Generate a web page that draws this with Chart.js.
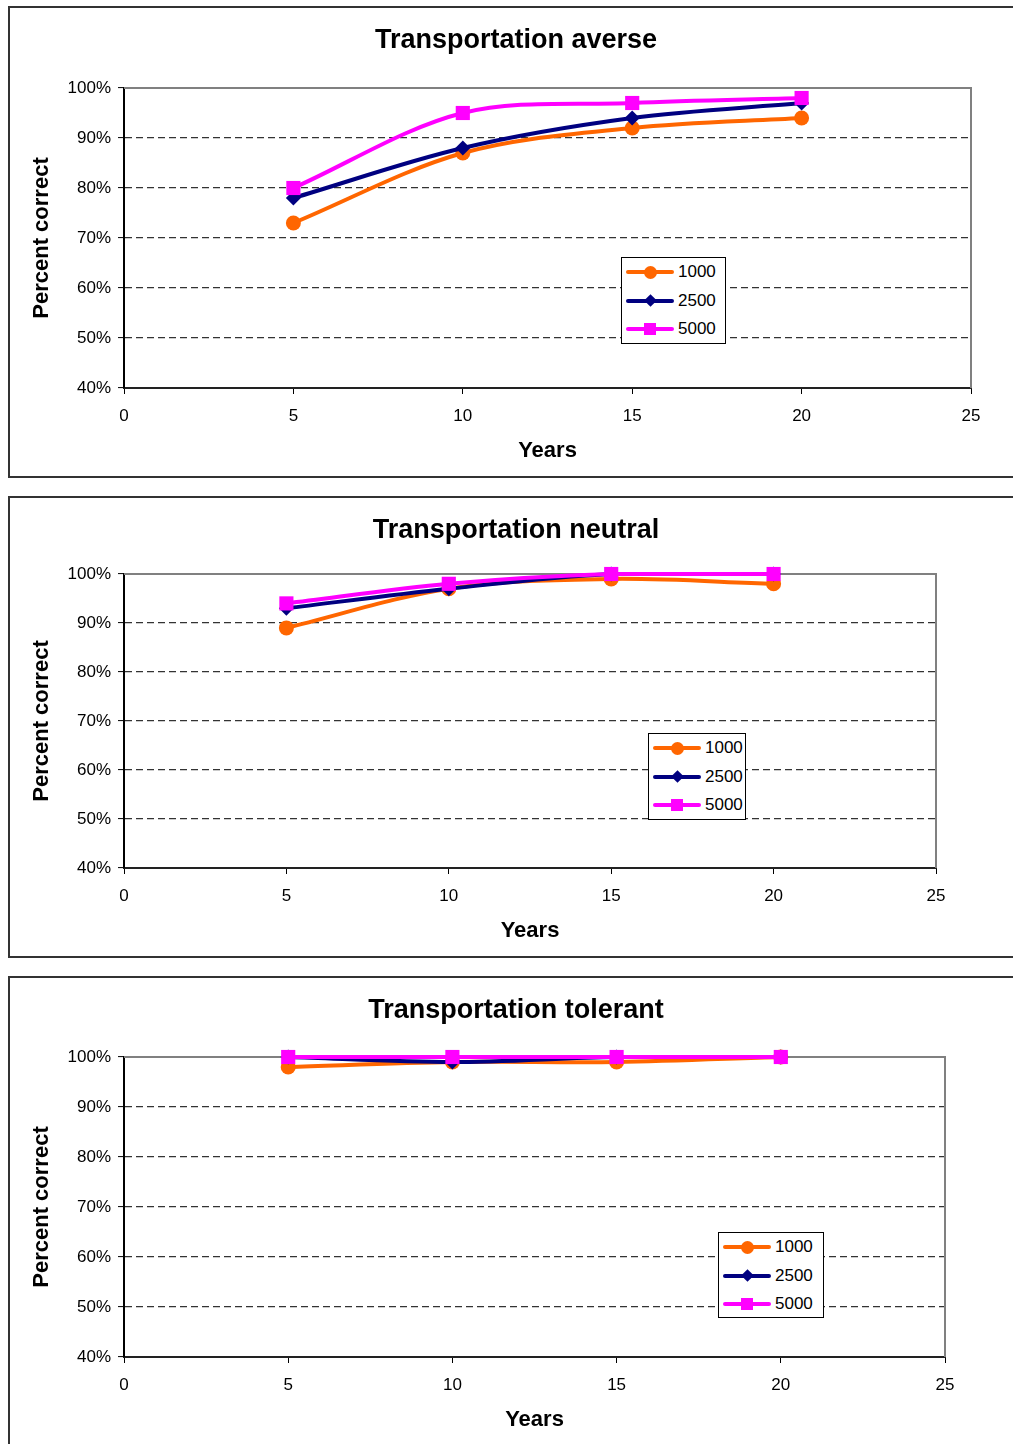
<!DOCTYPE html>
<html>
<head>
<meta charset="utf-8">
<script src="https://cdn.jsdelivr.net/npm/chart.js@4.4.1/dist/chart.umd.min.js"></script>
<style>
  body { margin: 0; width: 1013px; height: 1444px; overflow: hidden; background: #fff; position: relative;
         font-family: Arial, "Liberation Sans", sans-serif; }
  .box { position: absolute; left: 8px; width: 1016px; border: 2px solid #333; box-sizing: border-box; background: #fff; }
  .box canvas { position: absolute; left: 0; top: 0; }
  .legend { position: absolute; border: 1px solid #000; background: #fff; box-sizing: border-box; padding: 0 0 0 4px; }
  .row { height: 28.5px; display: flex; align-items: center; font-size: 17px; color: #000; }
  .key { position: relative; width: 48px; height: 14px; margin-right: 4px; }
  .key .ln { position: absolute; left: 0; right: 0; top: 5px; height: 4px; border-radius: 2px; }
  .key .mk { position: absolute; }
</style>
</head>
<body>
<script>
// data
const years = [5, 10, 15, 20];
const sampleSizes = ['1000', '2500', '5000'];
const seriesColors = ['#FF6600', '#000080', '#FF00FF'];
const pointStyles = ['circle', 'rectRot', 'rect'];
const pointSizes = [7.5, 7.5, 10];

const averse1000 = [73, 87, 92, 94];
const averse2500 = [78, 88, 94, 97];
const averse5000 = [80, 95, 97, 98];

const neutral1000 = [89, 97, 99, 98];
const neutral2500 = [93, 97, 100, 100];
const neutral5000 = [94, 98, 100, 100];

const tolerant1000 = [98, 99, 99, 100];
const tolerant2500 = [100, 99, 100, 100];
const tolerant5000 = [100, 100, 100, 100];

const chartTitles = ['Transportation averse', 'Transportation neutral', 'Transportation tolerant'];
const chartSeries = [
  [averse1000, averse2500, averse5000],
  [neutral1000, neutral2500, neutral5000],
  [tolerant1000, tolerant2500, tolerant5000]
];
const xMin = 0, xMax = 25, xStep = 5;
const yMin = 40, yMax = 100, yStep = 10;

// page layout of each panel (box, plot area, legend)
const panels = [
  { boxTop: 6,   boxHeight: 472, titleY: 41,   plot: { left: 124, top: 88,   right: 971, bottom: 388 },  legend: { left: 621, top: 257,  width: 105, height: 87 } },
  { boxTop: 496, boxHeight: 462, titleY: 531,  plot: { left: 124, top: 574,  right: 936, bottom: 868 },  legend: { left: 648, top: 733,  width: 98,  height: 87 } },
  { boxTop: 976, boxHeight: 476, titleY: 1011, plot: { left: 124, top: 1057, right: 945, bottom: 1357 }, legend: { left: 718, top: 1232, width: 106, height: 86 } }
];

// gray frame on top and right of plot area
const plotFrame = {
  id: 'plotFrame',
  beforeDatasetsDraw(chart) {
    const { ctx, chartArea: a } = chart;
    ctx.save();
    ctx.strokeStyle = '#808080';
    ctx.lineWidth = 2;
    ctx.beginPath();
    ctx.moveTo(a.left, a.top);
    ctx.lineTo(a.right, a.top);
    ctx.lineTo(a.right, a.bottom);
    ctx.stroke();
    ctx.restore();
  }
};

function buildLegend(p) {
  const lg = document.createElement('div');
  lg.className = 'legend';
  lg.style.left = p.legend.left + 'px';
  lg.style.top = p.legend.top + 'px';
  lg.style.width = p.legend.width + 'px';
  lg.style.height = p.legend.height + 'px';
  sampleSizes.forEach((name, i) => {
    const row = document.createElement('div');
    row.className = 'row';
    const key = document.createElement('div');
    key.className = 'key';
    const ln = document.createElement('div');
    ln.className = 'ln';
    ln.style.background = seriesColors[i];
    const mk = document.createElement('div');
    mk.className = 'mk';
    mk.style.background = seriesColors[i];
    if (pointStyles[i] === 'circle') {
      Object.assign(mk.style, { width: '13px', height: '13px', left: '18px', top: '0.5px', borderRadius: '50%' });
    } else if (pointStyles[i] === 'rectRot') {
      Object.assign(mk.style, { width: '9px', height: '9px', left: '19.5px', top: '2.5px', transform: 'rotate(45deg)' });
    } else {
      Object.assign(mk.style, { width: '12px', height: '12px', left: '18px', top: '1px' });
    }
    key.appendChild(ln);
    key.appendChild(mk);
    row.appendChild(key);
    row.appendChild(document.createTextNode(name));
    lg.appendChild(row);
  });
  document.body.appendChild(lg);
}

function makeChart(idx) {
  const p = panels[idx];
  const box = document.createElement('div');
  box.className = 'box';
  box.style.top = p.boxTop + 'px';
  box.style.height = p.boxHeight + 'px';
  const canvas = document.createElement('canvas');
  const cw = 1012, ch = p.boxHeight - 4;
  canvas.width = cw;
  canvas.height = ch;
  canvas.style.width = cw + 'px';
  canvas.style.height = ch + 'px';
  box.appendChild(canvas);
  document.body.appendChild(box);

  const originX = 10, originY = p.boxTop + 2;
  const plotLeft = p.plot.left - originX;
  const plotRight = p.plot.right - originX;
  const plotTop = p.plot.top - originY;
  const plotBottom = p.plot.bottom - originY;
  const titleLH = 27 * 1.2;
  const titleCenter = p.titleY - originY;
  const xAxisH = 80;

  const datasets = sampleSizes.map((name, i) => ({
    label: name,
    data: years.map((yr, j) => ({ x: yr, y: chartSeries[idx][i][j] })),
    borderColor: seriesColors[i],
    backgroundColor: seriesColors[i],
    borderWidth: 4,
    tension: 0.33,
    pointStyle: pointStyles[i],
    pointRadius: pointSizes[i],
    pointBorderWidth: 0,
    clip: false,
    order: sampleSizes.length - i
  }));

  new Chart(canvas, {
    type: 'line',
    data: { datasets },
    plugins: [plotFrame],
    options: {
      responsive: false,
      animation: false,
      events: [],
      layout: { padding: { left: 0, top: 0, right: 0, bottom: ch - plotBottom - xAxisH } },
      plugins: {
        legend: { display: false },
        tooltip: { enabled: false },
        title: {
          display: true,
          text: chartTitles[idx],
          color: '#000',
          font: { family: 'Arial, "Liberation Sans"', size: 27, weight: 'bold', lineHeight: 1.2 },
          padding: { top: titleCenter - titleLH / 2, bottom: plotTop - titleCenter - titleLH / 2 }
        }
      },
      scales: {
        x: {
          type: 'linear',
          min: xMin, max: xMax,
          afterFit: (s) => { s.height = xAxisH; },
          ticks: { stepSize: xStep, color: '#000', padding: 12, font: { family: 'Arial, "Liberation Sans"', size: 17 } },
          grid: { drawOnChartArea: false, drawTicks: true, tickLength: 6, tickColor: '#000', tickWidth: 1 },
          border: { display: true, color: '#222', width: 2 },
          title: {
            display: true, text: 'Years', color: '#000',
            font: { family: 'Arial, "Liberation Sans"', size: 22, weight: 'bold', lineHeight: 1.2 },
            padding: { top: 0, bottom: 17 - 13.2 }
          }
        },
        y: {
          min: yMin, max: yMax,
          afterFit: (s) => { s.width = plotLeft; },
          ticks: {
            stepSize: yStep, color: '#000', padding: 7,
            font: { family: 'Arial, "Liberation Sans"', size: 17 },
            callback: (v) => v + '%'
          },
          grid: {
            color: (c) => (c.tick && (c.tick.value === yMin || c.tick.value === yMax)) ? 'rgba(0,0,0,0)' : '#333',
            lineWidth: 1.2,
            tickLength: 6, tickColor: '#000', tickWidth: 1, tickBorderDash: []
          },
          border: { display: true, color: '#000', width: 2, dash: [7, 4] },
          title: {
            display: true, text: 'Percent correct', color: '#000',
            font: { family: 'Arial, "Liberation Sans"', size: 22, weight: 'bold', lineHeight: 1.2 },
            padding: { top: 32 - 13.2, bottom: 0 }
          }
        },
        // empty right-hand spacer so the title stays centred on the whole panel
        spacer: {
          type: 'linear',
          position: 'right',
          afterFit: (s) => { s.width = cw - plotRight; },
          ticks: { display: false },
          grid: { display: false },
          border: { display: false }
        }
      }
    }
  });
  buildLegend(p);
}

chartTitles.forEach((t, i) => makeChart(i));
</script>
</body>
</html>
